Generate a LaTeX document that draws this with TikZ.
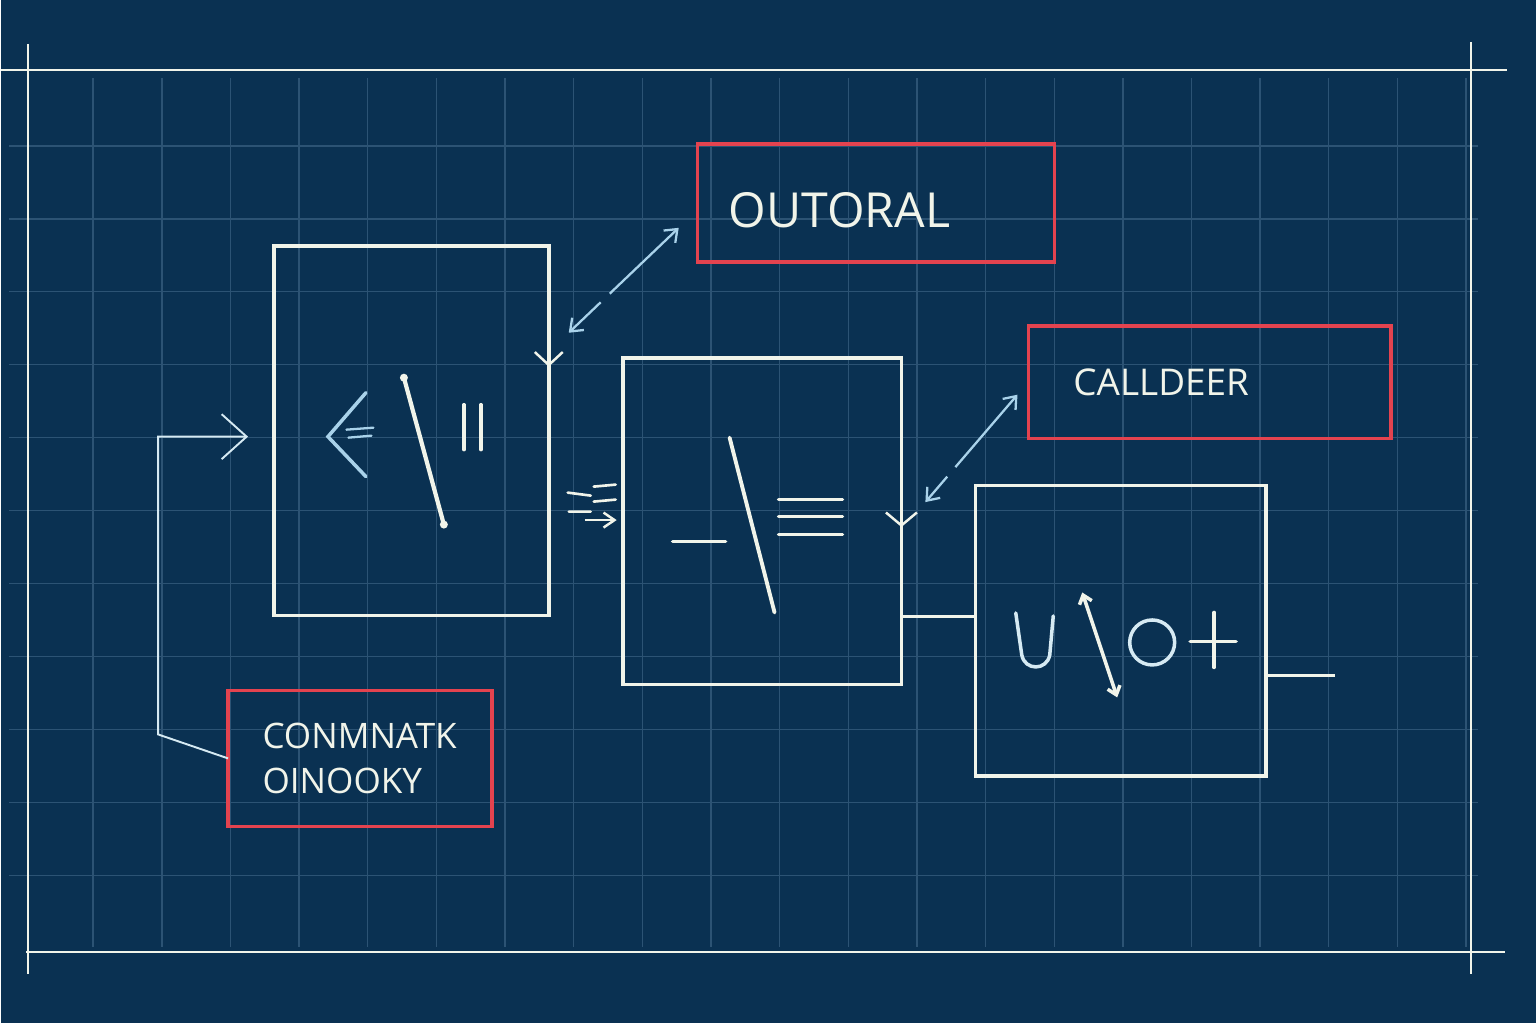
\documentclass[tikz,border=0pt]{standalone}
\usepackage{fontspec}
\setmainfont{Open Sans}
\usetikzlibrary{arrows.meta,positioning,calc}
\definecolor{Navy}{HTML}{0A3152}
\definecolor{Grid}{HTML}{2C5374}
\definecolor{Chalk}{HTML}{F1F4EA}
\definecolor{Ice}{HTML}{D6EAF3}
\definecolor{Pale}{HTML}{A9D2EA}
\definecolor{Red}{HTML}{E4434F}

\begin{document}
\begin{tikzpicture}[x=0.02cm, y=-0.02cm, node distance=1.48cm,
  block/.style={draw=Chalk, line width=2.1pt, inner sep=0pt, outer sep=0pt},
  tag/.style={draw=Red, line width=2pt, text=Chalk, align=left, outer sep=0pt},
  wire/.style={draw=Chalk, line width=1.4pt},
  link/.style={draw=Pale, line width=1.3pt, dash pattern=on 1.85cm off 0.25cm,
    {Straight Barb[length=0.22cm,width=0.34cm]}-{Straight Barb[length=0.22cm,width=0.34cm]}},
  glyph/.style={draw=Chalk, line width=2pt, line cap=round}]
\fill[Navy] (0,0) rectangle (1536,1024);
\foreach \gx in {0,...,20}
  \draw[Grid, line width=0.8pt] ({92+68.7*\gx},78) -- ({92+68.7*\gx},948);
\foreach \gy in {0,...,10}
  \draw[Grid, line width=0.8pt] (8,{146+73*\gy}) -- (1478,{146+73*\gy});
\draw[Chalk, line width=1.4pt] (0,70) -- (1507,70) (25,953) -- (1505,953)
  (27,44) -- (27,975) (1471,42) -- (1471,975);

\node[block, minimum width=5.5cm, minimum height=7.4cm] (cmp) at (410.5,431) {};
\node[block, minimum width=5.58cm, minimum height=6.54cm, right=of cmp, yshift=-1.81cm] (eqv) {};
\node[block, minimum width=5.82cm, minimum height=5.82cm, right=of eqv, yshift=-2.2cm] (sum) {};
\node[tag, minimum width=7.14cm, minimum height=2.36cm, text width=5.9cm, inner xsep=0.62cm, text height=0.98cm, text depth=0pt, font=\fontsize{27.5}{32}\selectfont] (outo) at (875.5,203) {OUTORAL};
\node[tag, minimum width=7.26cm, minimum height=2.26cm, text width=5.46cm, inner xsep=0.9cm, font=\fontsize{21}{25}\selectfont] (call) at (1209.5,382.5) {CALLDEER};
\node[tag, minimum width=5.28cm, minimum height=2.72cm, text width=3.9cm, inner xsep=0.69cm, font=\fontsize{20}{25.6}\selectfont] (cmd) at (359,759) {CONMNATK\\OINOOKY};

\coordinate (inTip) at ($(cmp.west)+(-26,6)$);
\coordinate (sumIn) at ($(sum.west)+(0,-14.5)$);
\coordinate (sumOut) at ($(sum.east)+(69,44.5)$);
\draw[wire, draw=Ice, line width=1.1pt, -{Straight Barb[length=0.5cm,width=0.9cm]}] (cmd.west) -- (157,735) |- (inTip);
\draw[wire, -{Straight Barb[length=0.26cm,width=0.56cm]}] ($(cmp.east)+(0,-110)$) -- ($(cmp.east)+(0,-64)$);
\draw[wire, -{Straight Barb[length=0.26cm,width=0.62cm]}] ($(eqv.east)+(0,-40)$) -- ($(eqv.east)+(0,6)$);
\draw[link] ($(outo.west)+(-19,25)$) -- ($(cmp.east)+(20,-98)$);
\draw[link] ($(call.west)+(-11,12.5)$) -- ($(eqv.east)+(24,-19)$);
\draw[wire, -{Straight Barb[length=0.22cm,width=0.3cm]}] ($(cmp.east |- eqv.west)+(36,-1)$) -- ($(eqv.west)+(-6,-1)$);
\draw[wire] (sumIn -| eqv.east) -- (sumIn);
\draw[wire] (sumOut -| sum.east) -- (sumOut);

\begin{scope}[shift={(cmp.east)}]
\draw[glyph, line width=1.5pt] (19,62) -- (42,65) (45,56) -- (67,54) (45,71) -- (67,69) (20,81) -- (42,81);
\end{scope}
\begin{scope}[shift={(cmp.center)}]
\draw[glyph, draw=Pale] (-45.5,-38) -- (-83.5,6) -- (-45.5,46);
\draw[glyph, draw=Pale, line width=1.3pt] (-65,-1) -- (-38,-3) (-63,7) -- (-40,5);
\draw[glyph, line width=2.4pt] (-7.5,-53) -- (32.5,94);
\fill[Chalk] (-7.5,-53) circle (0.08cm) (32.5,94) circle (0.08cm);
\draw[glyph] (52.5,-26) -- (52.5,19) (69.5,-26) -- (69.5,19);
\end{scope}
\begin{scope}[shift={(eqv.center)}]
\draw[glyph] (-89.5,20.5) -- (-36.5,20.5);
\draw[glyph, line width=2.2pt] (-32.5,-83.5) -- (12.5,91.5);
\draw[glyph] (16.5,-21.5) -- (80.5,-21.5) (16.5,-4.5) -- (80.5,-4.5) (16.5,13.5) -- (80.5,13.5);
\end{scope}
\begin{scope}[shift={(sum.center)}]
\draw[glyph, draw=Ice] (-105,-18) -- (-99,24) .. controls (-96,40) and (-74,40) .. (-71,24) -- (-67.5,-15);
\draw[glyph, {Straight Barb[length=0.16cm,width=0.26cm]}-{Straight Barb[length=0.16cm,width=0.26cm]}] (-38.5,-38.5) -- (-3.5,66.5);
\draw[glyph, draw=Ice] (31.5,11.5) circle (0.45cm);
\draw[glyph] (69.5,10.5) -- (115.5,10.5) (93.5,-18.5) -- (93.5,36.5);
\end{scope}
\end{tikzpicture}
\end{document}
